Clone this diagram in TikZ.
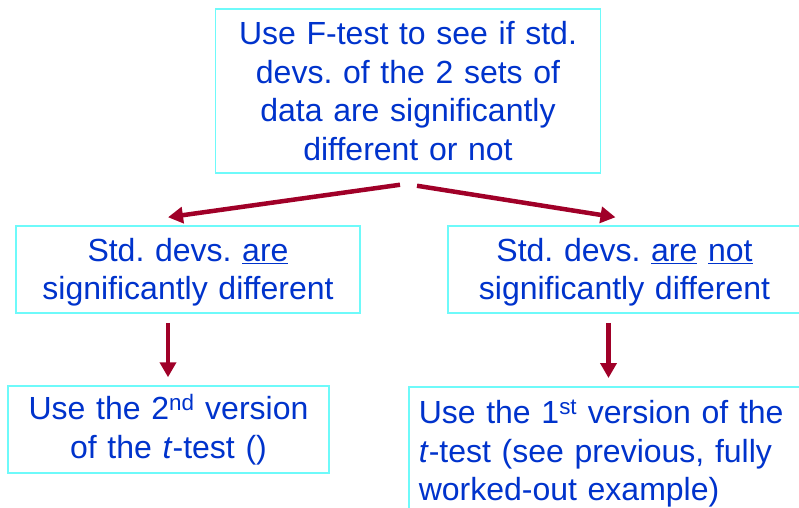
\documentclass[tikz,border=0pt]{standalone}
\usepackage{fontspec}
\setmainfont{Liberation Sans}
\usetikzlibrary{arrows.meta,positioning}
\definecolor{txtblue}{RGB}{0,51,204}
\definecolor{boxcyan}{RGB}{110,250,250}
\definecolor{arrred}{RGB}{160,0,40}
\frenchspacing

\begin{document}
\begin{tikzpicture}[x=1pt, y=-1pt,
  every node/.style={font=\fontsize{32}{38.5}\selectfont, text=txtblue},
  box/.style={draw=boxcyan, line width=1.5pt, inner sep=0pt, align=center},
  flow/.style={draw=arrred, line width=4.5pt, -{Triangle[length=15pt,width=16pt]}}]
  \clip (0,0) rectangle (799,507);
  \fill[white] (0,0) rectangle (799,507);

  % F-test (en haut)
  \node[box, minimum width=385pt, minimum height=164pt, text width=380pt] (ftest) at (408,91)
    {Use F-test to see if std.\\ devs. of the 2 sets of\\ data are significantly\\ different or not};

  % deux cas
  \node[box, minimum width=344pt, minimum height=87pt, text width=340pt, text height=29pt] (diff) at (188,269.5)
    {Std. devs. \underline{are}\\ significantly different};
  \node[box, minimum width=353pt, minimum height=87pt, text width=345pt, text height=29pt] (same) at (624.5,269.5)
    {Std. devs. \underline{are} \underline{not}\\ significantly different};

  % versions du t-test
  \node[box, minimum width=321pt, minimum height=87pt, text width=315pt] (second) at (168.5,429.5)
    {Use the 2\textsuperscript{nd} version\\ of the \textit{t}-test ()};
  \node[box, anchor=north west, align=left, inner xsep=10pt, minimum width=420pt,
        minimum height=134pt, text width=400pt] (first) at (408,386)
    {Use the 1\textsuperscript{st} version of the\\ \textit{t}-test (see previous, fully\\ worked-out example)};

  % fleches
  \draw[flow] ([xshift=-8pt,yshift=-11pt]ftest.south) -- ([xshift=-20pt,yshift=8pt]diff.north);
  \draw[flow] ([xshift=9pt,yshift=-12pt]ftest.south) -- ([xshift=-9pt,yshift=8pt]same.north);
  \draw[flow] ([xshift=-20pt,yshift=-9pt]diff.south) -- ([xshift=-20pt,yshift=8pt]diff.south |- second.north);
  \draw[flow] ([xshift=-16pt,yshift=-9pt]same.south) -- ([xshift=-16pt,yshift=8pt]same.south |- first.north);
\end{tikzpicture}
\end{document}
